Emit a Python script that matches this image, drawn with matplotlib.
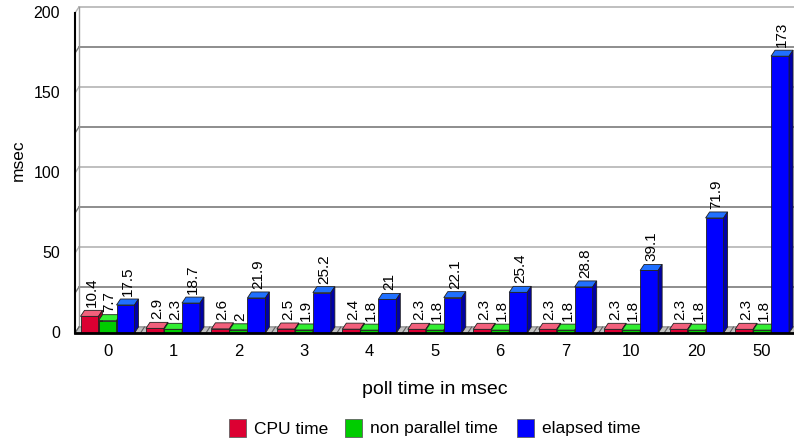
import numpy as np
import matplotlib
matplotlib.use('Agg')
from matplotlib import pyplot as plt
from matplotlib.patches import Polygon, Rectangle

plt.rcParams['font.family'] = ['Liberation Sans', 'DejaVu Sans']

# poll time categories and measured times (msec)
poll = ['0', '1', '2', '3', '4', '5', '6', '7', '10', '20', '50']
cpu_time = [10.4, 2.9, 2.6, 2.5, 2.4, 2.3, 2.3, 2.3, 2.3, 2.3, 2.3]
nonpar_time = [7.7, 2.3, 2, 1.9, 1.8, 1.8, 1.8, 1.8, 1.8, 1.8, 1.8]
elapsed_time = [17.5, 18.7, 21.9, 25.2, 21, 22.1, 25.4, 28.8, 39.1, 71.9, 173]
series_names = ['CPU time', 'non parallel time', 'elapsed time']

# front / top / side colours of each series
cols = [('#DC0032', '#F2607C', '#A00024'),
        ('#00CC00', '#33EE33', '#009000'),
        ('#0000FF', '#2070FF', '#0000A8')]

W, H = 794, 446
fig = plt.figure(figsize=(W / 100, H / 100), dpi=100)
ax = fig.add_axes([75 / W, (H - 333) / H, 720 / W, 333 / H])
ax.set_xlim(0, 11)
ax.set_ylim(0, 333 * 0.625)
ax.axis('off')

pxx = 11 / 720.0     # data x per pixel
pxy = 0.625          # data y per pixel
dx, dy = 4 * pxx, 6 * pxy

# back wall grid
for k, v in enumerate(np.arange(0, 201, 25)):
    c = '#7a7a7a' if k % 2 else '#b4b4b4'
    ax.plot([dx, 11], [v + dy, v + dy], color=c, lw=1.2, clip_on=False, zorder=1)
    ax.plot([0, dx], [v, v + dy], color=c, lw=1.0, clip_on=False, zorder=1)
ax.plot([dx, dx], [dy, 200 + dy], color='#9a9a9a', lw=1.0, clip_on=False, zorder=1)

# floor
floor = Polygon([(0, 0), (11, 0), (11 + dx, dy), (dx, dy)], closed=True,
                facecolor='#c0c0c0', edgecolor='#808080', lw=0.6, zorder=2, clip_on=False)
ax.add_patch(floor)
for i in range(12):
    ax.plot([i, i + dx], [0, dy], color='#606060', lw=0.8, zorder=2, clip_on=False)

bw = 18 * pxx
off = 5.5 * pxx
data = [cpu_time, nonpar_time, elapsed_time]

for i in range(len(poll)):
    for s in range(3):
        v = data[s][i]
        x0 = i + off + s * bw
        front, top, side = cols[s]
        ax.add_patch(Rectangle((x0, 0), bw, v, facecolor=front, edgecolor='#202020',
                               lw=0.6, zorder=3 + s, clip_on=False))
        ax.add_patch(Polygon([(x0, v), (x0 + bw, v), (x0 + bw + dx, v + dy), (x0 + dx, v + dy)],
                             closed=True, facecolor=top, edgecolor='#202020', lw=0.6,
                             zorder=3 + s, clip_on=False))
        ax.add_patch(Polygon([(x0 + bw, 0), (x0 + bw + dx, dy), (x0 + bw + dx, v + dy), (x0 + bw, v)],
                             closed=True, facecolor=side, edgecolor='#202020', lw=0.6,
                             zorder=3 + s, clip_on=False))
        ax.text(x0 + bw / 2 + dx / 2, v + dy + 3 * pxy, '%g' % v, rotation=90,
                ha='center', va='bottom', fontsize=11, zorder=10)

# front axes lines
ax.plot([0, 0], [0, 200], color='black', lw=1.5, clip_on=False, zorder=8)
ax.plot([0, 11], [0, 0], color='black', lw=2, clip_on=False, zorder=8)

# tick labels
for v in range(0, 201, 50):
    ax.text(-15 * pxx, v, str(v), ha='right', va='center', fontsize=11.5)
for i, p in enumerate(poll):
    ax.text(i + off + 1.5 * bw, -19 * pxy, p, ha='center', va='center', fontsize=12)

fig.text(435 / W, 1 - 390 / H, 'poll time in msec', ha='center', va='center', fontsize=14)
fig.text(18 / W, 1 - 160 / H, 'msec', ha='center', va='center', rotation=90, fontsize=12.5)

# legend
leg_x = [229, 345, 517]
for k in range(3):
    fig.patches.append(Rectangle((leg_x[k] / W, 1 - 437 / H), 17 / W, 18 / H,
                                 transform=fig.transFigure, facecolor=cols[k][0],
                                 edgecolor='#606060', lw=0.6))
    fig.text((leg_x[k] + 25) / W, 1 - 429 / H, series_names[k], ha='left', va='center',
             fontsize=12.5)

plt.savefig('out.png', dpi=100)
